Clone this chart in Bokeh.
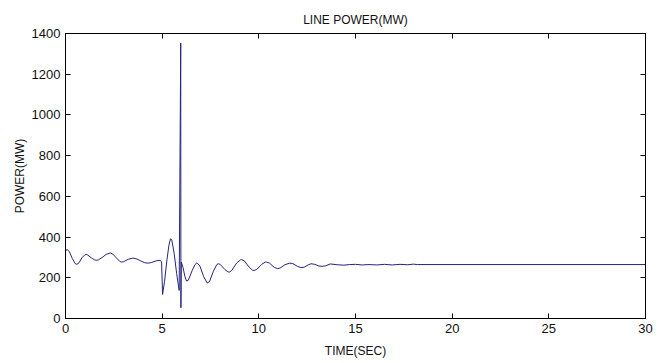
from bokeh.plotting import figure
from bokeh.models import Range1d, LinearAxis, FixedTicker
from bokeh.embed import file_html
from bokeh.resources import INLINE

# Time (s) and line power (MW)
time_s = [0.0, 0.08, 0.2, 0.35, 0.5, 0.59, 0.7, 0.85, 1.0, 1.07, 1.15, 1.35, 1.5,
          1.59, 1.7, 1.9, 2.1, 2.32, 2.45, 2.65, 2.8, 2.89, 3.0, 3.25, 3.49, 3.7,
          3.95, 4.1, 4.27, 4.45, 4.65, 4.84, 4.92, 4.97, 5.02, 5.12, 5.25, 5.35,
          5.43, 5.5, 5.62, 5.75, 5.88, 5.96, 5.97, 5.99, 6.08, 6.18, 6.26, 6.35,
          6.55, 6.7, 6.8, 6.95, 7.15, 7.33, 7.45, 7.65, 7.82, 7.9, 8.0, 8.25, 8.4,
          8.48, 8.6, 8.85, 9.05, 9.12, 9.25, 9.5, 9.68, 9.76, 9.9, 10.15, 10.33,
          10.4, 10.55, 10.8, 10.97, 11.1, 11.35, 11.59, 11.75, 12.0, 12.18, 12.35,
          12.55, 12.7, 12.9, 13.1, 13.27, 13.45, 13.7, 14.05, 14.4, 14.7, 15.0,
          15.35, 15.7, 16.1, 16.5, 16.9, 17.3, 17.7, 18.0, 18.2, 30.0]
power_mw = [330, 340, 328, 295, 270, 266, 274, 298, 313, 315, 312, 297, 288,
            286, 288, 300, 315, 322, 316, 296, 281, 277, 279, 291, 297, 292,
            280, 274, 272, 275, 282, 286, 284, 278, 118, 180, 290, 360,
            392, 385, 320, 220, 138, 1353, 53, 277, 250, 205, 184, 188,
            235, 265, 274, 258, 205, 174, 182, 232, 264, 269, 266, 240, 229,
            228, 236, 272, 288, 289, 283, 252, 237, 236, 242, 266, 277,
            277, 272, 251, 245, 248, 264, 272, 270, 256, 250, 252,
            263, 269, 266, 258, 256, 259, 268, 264, 262, 265, 266,
            263, 265, 263, 266, 263, 266, 264, 267, 265, 265]

x_ticks = [0, 5, 10, 15, 20, 25, 30]
y_ticks = [0, 200, 400, 600, 800, 1000, 1200, 1400]

FONT = "Liberation Sans"

p = figure(width=659, height=363, output_backend="svg", toolbar_location=None,
           x_range=Range1d(0, 30), y_range=Range1d(0, 1400),
           title="LINE POWER(MW)",
           min_border_left=65, min_border_right=14, min_border_top=33, min_border_bottom=45)

p.title.align = "center"
p.title.text_font = FONT
p.title.text_font_size = "12px"
p.title.text_font_style = "normal"
p.title.text_color = "#111111"
p.title.offset = 0
p.title.standoff = 14

p.xgrid.visible = False
p.ygrid.visible = False
p.outline_line_color = "black"
p.outline_line_width = 1
p.background_fill_color = "white"
p.border_fill_color = "white"

p.line(time_s, power_mw, line_color="#24247a", line_width=1)

for ax, ticks in ((p.xaxis[0], x_ticks), (p.yaxis[0], y_ticks)):
    ax.ticker = FixedTicker(ticks=ticks)
    ax.major_tick_in = 5
    ax.major_tick_out = 0
    ax.minor_tick_in = 0
    ax.minor_tick_out = 0
    ax.axis_line_color = "black"
    ax.major_tick_line_color = "black"
    ax.major_label_text_font = FONT
    ax.major_label_text_font_size = "13px"
    ax.major_label_text_color = "#111111"
    ax.axis_label_text_font = FONT
    ax.axis_label_text_font_size = "12px"
    ax.axis_label_text_font_style = "normal"
    ax.axis_label_text_color = "#111111"

p.xaxis[0].axis_label = "TIME(SEC)"
p.yaxis[0].axis_label = "POWER(MW)"
p.xaxis[0].major_label_standoff = 5
p.xaxis[0].axis_label_standoff = 8
p.yaxis[0].major_label_standoff = 5
p.yaxis[0].axis_label_standoff = 2

top = LinearAxis(ticker=FixedTicker(ticks=x_ticks), major_tick_in=5, major_tick_out=0,
                 minor_tick_in=0, minor_tick_out=0, major_label_standoff=0,
                 major_label_overrides={t: "" for t in x_ticks}, axis_line_color="black")
right = LinearAxis(ticker=FixedTicker(ticks=y_ticks), major_tick_in=5, major_tick_out=0,
                   minor_tick_in=0, minor_tick_out=0, major_label_standoff=0,
                   major_label_overrides={t: "" for t in y_ticks}, axis_line_color="black")
p.add_layout(top, "above")
p.add_layout(right, "right")

open("out.html", "w").write(file_html(p, INLINE))
